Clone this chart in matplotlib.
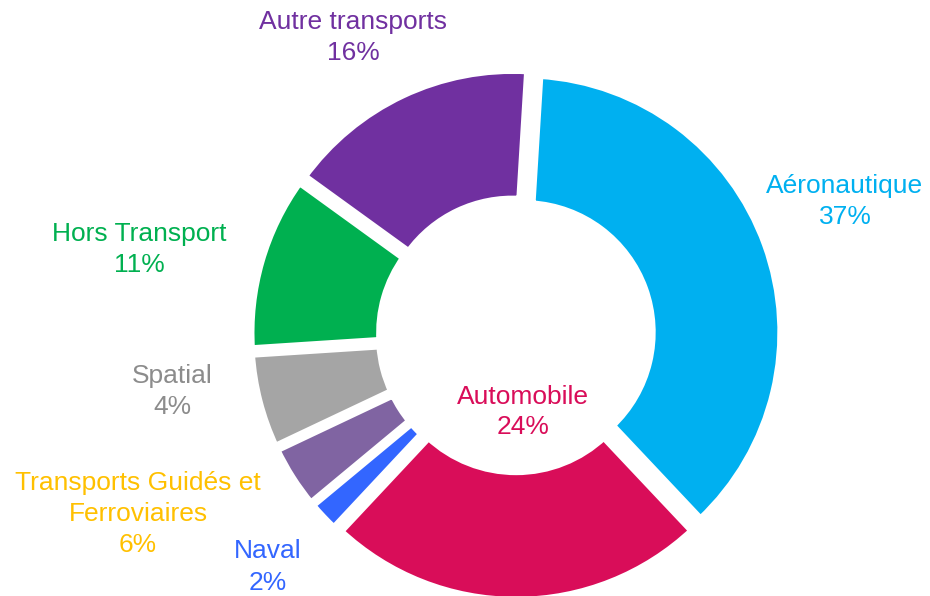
import matplotlib.pyplot as plt

plt.rcParams['font.family'] = ['Liberation Sans', 'DejaVu Sans']

# data (clockwise from the top)
categories = ['Aéronautique', 'Automobile', 'Naval', 'Spatial',
              'Transports Guidés et\nFerroviaires', 'Hors Transport', 'Autre transports']
shares = [37, 24, 2, 4, 6, 11, 16]
slice_colors = ['#00B0F0', '#D90D59', '#3366FF', '#8064A2', '#A5A5A5', '#00B050', '#7030A0']
label_colors = ['#00B0F0', '#D90D59', '#3366FF', '#8C8C8C', '#FFC000', '#00B050', '#7030A0']

# label centres, in picture pixels (x from left, y from top)
label_pos = [(845, 201), (523, 412), (268, 567), (172, 391), (138, 514), (139, 250), (353, 37)]
LINE_STEP = 31  # px between label lines

W, H = 930, 596
fig = plt.figure(figsize=(W / 100, H / 100), dpi=100)
ax = fig.add_axes([0, 0, 1, 1])

ax.pie(shares, colors=slice_colors, startangle=86.5, counterclock=False,
       center=(516, H - 335), radius=258, explode=[8] * len(shares),
       wedgeprops=dict(width=130, edgecolor='white', linewidth=6))

# one text per line so the label boxes stay tight
for name, val, col, (px, py) in zip(categories, shares, label_colors, label_pos):
    lines = f'{name}\n{val}%'.split('\n')
    top = py - LINE_STEP * (len(lines) - 1) / 2
    for i, line in enumerate(lines):
        ax.text(px, H - (top + i * LINE_STEP), line, ha='center', va='center',
                color=col, fontsize=19)

ax.set_xlim(0, W)
ax.set_ylim(0, H)
ax.set_aspect('equal')
ax.axis('off')

fig.savefig('out.png', dpi=100)
